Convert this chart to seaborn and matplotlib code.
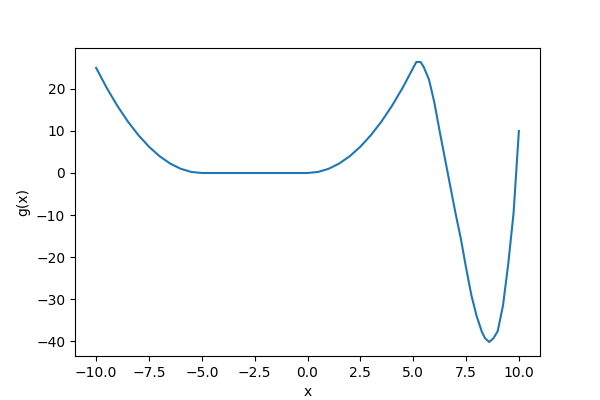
import pandas as pd
import matplotlib
matplotlib.use("Agg")
import matplotlib.pyplot as plt
import seaborn as sns

# values
x_left = [-10.0, -9.5, -9.0, -8.5, -8.0, -7.5, -7.0, -6.5, -6.0, -5.5, -5.0,
          -4.0, -3.0, -2.0, -1.0, 0.0]
g_left = [25.0, 20.25, 16.0, 12.25, 9.0, 6.25, 4.0, 2.25, 1.0, 0.25, 0.0,
          0.0, 0.0, 0.0, 0.0, 0.0]

x_mid = [0.5, 1.0, 1.5, 2.0, 2.5, 3.0, 3.5, 4.0, 4.5, 5.0, 5.15, 5.35]
g_mid = [0.25, 1.0, 2.25, 4.0, 6.25, 9.0, 12.25, 16.0, 20.25, 25.0, 26.4, 26.4]

x_right = [5.5, 5.75, 6.0, 6.25, 6.5, 6.75, 7.0, 7.25, 7.5, 7.75, 8.0, 8.25,
           8.4, 8.6, 8.8, 9.0, 9.25, 9.5, 9.75, 10.0]
g_right = [25.2, 22.2, 16.8, 10.0, 3.5, -3.0, -9.5, -15.5, -22.5, -29.0, -34.0, -37.8,
           -39.3, -40.2, -39.3, -37.6, -31.5, -21.5, -9.5, 10.0]

df = pd.DataFrame({"x": x_left + x_mid + x_right,
                   "g": g_left + g_mid + g_right})

fig, ax = plt.subplots(figsize=(6, 4), dpi=100)
sns.lineplot(data=df, x="x", y="g", ax=ax, color="C0", sort=False)
ax.set_xlabel("x")
ax.set_ylabel("g(x)")
plt.savefig("out.png")
